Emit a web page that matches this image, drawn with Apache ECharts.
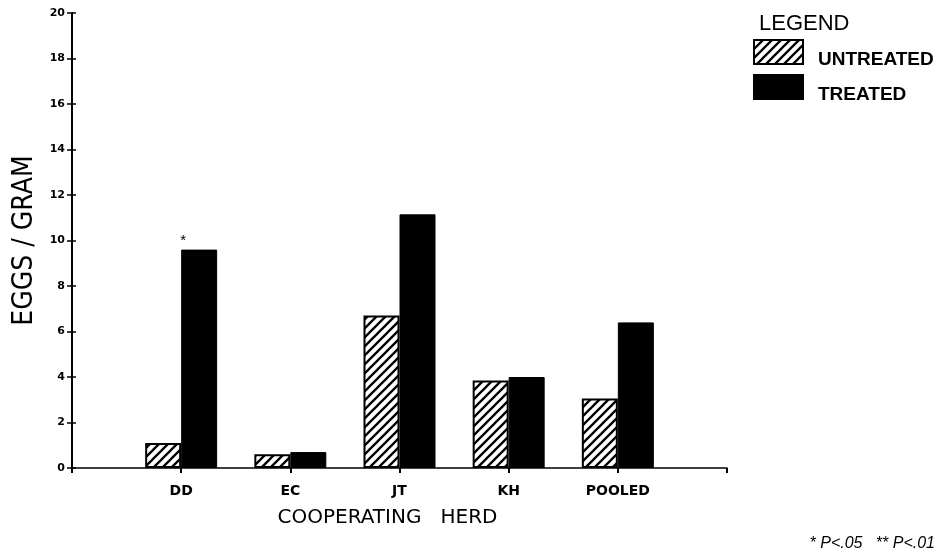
<!DOCTYPE html>
<html><head><meta charset="utf-8">
<script src="https://cdn.jsdelivr.net/npm/echarts@6/dist/echarts.min.js"></script>
<style>html,body{margin:0;padding:0;background:#fff}#c{width:946px;height:558px}</style>
</head><body><div id="c"></div>
<script>
const categories = ['', 'DD', 'EC', 'JT', 'KH', 'POOLED', ''];
const untreated = [null, 1.1, 0.6, 6.7, 3.85, 3.05, null];
const treated = [null, 9.6, 0.7, 11.15, 4.0, 6.4, null];
const significance = [null, '*', '', '', '', '', null];
const yTicks = [0, 2, 4, 6, 8, 10, 12, 14, 16, 18, 20];

function hatch() {
  const s = 9;
  const cv = document.createElement('canvas');
  cv.width = s; cv.height = s;
  const g = cv.getContext('2d');
  g.fillStyle = '#fff'; g.fillRect(0, 0, s, s);
  g.strokeStyle = '#000'; g.lineWidth = 2.3;
  g.beginPath();
  g.moveTo(-1, s + 1); g.lineTo(s + 1, -1);
  g.moveTo(-1 - s, s + 1); g.lineTo(1, -1);
  g.moveTo(s - 1, s + 1); g.lineTo(2 * s + 1, -1);
  g.stroke();
  return cv;
}

const chart = echarts.init(document.getElementById('c'), null, {renderer: 'canvas'});
const font = '"Liberation Sans", Arial, sans-serif';
const wide = '"DejaVu Sans", sans-serif';
chart.setOption({
  animation: false,
  backgroundColor: '#fff',
  textStyle: {fontFamily: font, color: '#000'},
  title: [
    {text: 'LEGEND', left: 754, top: 8, textStyle: {fontSize: 22, fontWeight: 'normal', fontFamily: font, color: '#000'}},
    {text: '* P<.05   ** P<.01', right: 6, top: 531, textStyle: {fontSize: 16, fontStyle: 'italic', fontWeight: 'normal', fontFamily: font, color: '#000'}}
  ],
  legend: {
    orient: 'vertical', left: 753, top: 39, itemGap: 5, padding: 0,
    itemWidth: 49, itemHeight: 24, icon: 'rect',
    formatter: name => '{t|' + name + '}',
    textStyle: {fontSize: 19, fontWeight: 'bold', fontFamily: font, color: '#000', padding: [0, 0, 0, 10],
      rich: {t: {fontSize: 19, fontWeight: 'bold', fontFamily: font, color: '#000', lineHeight: 34, verticalAlign: 'bottom'}}},
    data: ['UNTREATED', 'TREATED']
  },
  grid: {left: 72, right: 219, top: 13, bottom: 90, containLabel: false},
  xAxis: {
    type: 'category', data: categories, boundaryGap: false,
    axisLine: {lineStyle: {color: '#000', width: 1.5}},
    axisTick: {show: true, length: 5, inside: false, lineStyle: {color: '#000', width: 2}},
    axisLabel: {fontSize: 14, fontWeight: 'bold', color: '#000', margin: 16, fontFamily: wide},
    name: 'COOPERATING   HERD', nameLocation: 'middle', nameGap: 40,
    nameTextStyle: {fontSize: 20, color: '#000', fontFamily: wide, padding: [0, 24, 0, 0]}
  },
  yAxis: [{
    type: 'value', min: 0, max: 20, interval: 2,
    axisLine: {show: true, lineStyle: {color: '#000', width: 2}},
    axisTick: {show: true, length: 5, lineStyle: {color: '#000', width: 1.5}},
    splitLine: {show: false},
    axisLabel: {fontSize: 11, fontWeight: 'bold', color: '#000', margin: 7, fontFamily: wide,
      formatter: v => yTicks.includes(v) ? String(v) : ''},
    name: 'EGGS / GRAM', nameLocation: 'middle', nameGap: 31, nameRotate: 90,
    nameTextStyle: {fontSize: 28, color: '#000', fontFamily: '"DejaVu Sans Condensed", "Liberation Sans Narrow", sans-serif', fontWeight: 'normal'}
  }, {
    type: 'value', min: 0, max: 20, interval: 2, position: 'left',
    axisLine: {show: false},
    axisTick: {show: true, inside: true, length: 4, lineStyle: {color: '#000', width: 1.5}},
    axisLabel: {show: false}, splitLine: {show: false}
  }],
  series: [
    {name: 'UNTREATED', type: 'bar', data: untreated, barWidth: 36, barGap: '0%',
      itemStyle: {color: {image: hatch(), repeat: 'repeat'}, borderColor: '#000', borderWidth: 2}},
    {name: 'TREATED', type: 'bar', data: treated, barWidth: 36,
      itemStyle: {color: '#000', borderColor: '#000', borderWidth: 1},
      label: {show: true, position: 'top', distance: 1, offset: [-16, 0], fontSize: 15, color: '#000',
        formatter: p => significance[p.dataIndex] || ''}}
  ]
});
</script></body></html>
